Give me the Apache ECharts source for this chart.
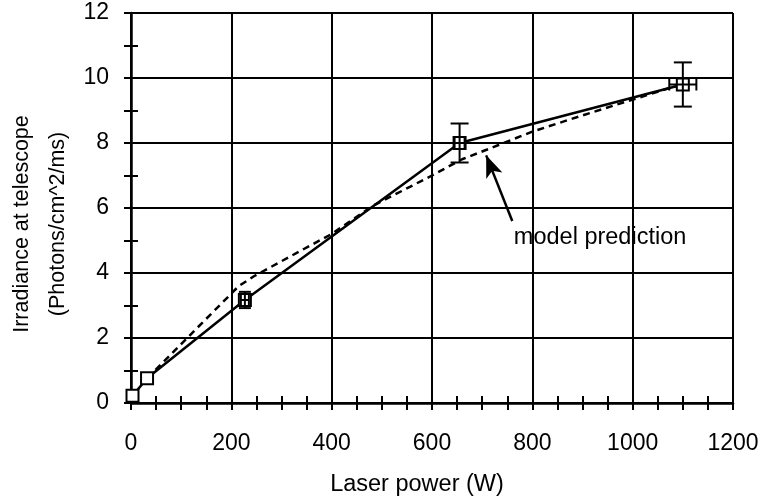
<!DOCTYPE html>
<html lang="en">
<head>
    <meta charset="UTF-8">
    <script src="https://cdn.jsdelivr.net/npm/echarts@6/dist/echarts.min.js"></script>
    <style>
        html, body { margin: 0; padding: 0; background: #fff; }
        #chart { width: 759px; height: 499px; }
    </style>
</head>
<body>
<div id="chart"></div>
<script type="text/javascript">
    // measured points: laser power (W), irradiance, error bars
    const powerW = [3, 32, 227, 655, 1100];
    const irradiance = [0.22, 0.76, 3.17, 8.0, 9.8];
    const irrErr = [0, 0, 0.25, 0.6, 0.68];
    const powerErr = [0, 0, 8, 10, 27];

    // model prediction curve (dashed)
    const modelPower = [32, 215, 245, 340, 400, 480, 600, 660, 710, 800, 900, 1075, 1100];
    const modelIrr = [0.76, 3.6, 3.9, 4.7, 5.2, 6.05, 7.0, 7.5, 7.8, 8.35, 8.85, 9.7, 9.8];

    // annotation: arrow tail -> tip, label spot
    const arrowFrom = [760, 5.6];
    const arrowTo = [708, 7.62];
    const notePos = [935, 5.1];
    const noteText = 'model prediction';

    const font = 'Liberation Sans, Arial, Helvetica, sans-serif';
    const ink = '#000';

    let chart = echarts.init(document.getElementById('chart'));

    const measured = powerW.map(function (x, i) { return [x, irradiance[i]]; });
    const bars = powerW.map(function (x, i) { return [x, irradiance[i], irrErr[i], powerErr[i]]; });
    const model = modelPower.map(function (x, i) { return [x, modelIrr[i]]; });

    function errorBars(params, api) {
        const x = api.value(0), y = api.value(1), ey = api.value(2), ex = api.value(3);
        const cap = ey > 0.5 ? 9 : 6;
        const kids = [];
        const st = { stroke: ink, lineWidth: 2 };
        if (ey > 0) {
            const top = api.coord([x, y + ey]);
            const bot = api.coord([x, y - ey]);
            kids.push({ type: 'line', shape: { x1: top[0], y1: top[1], x2: bot[0], y2: bot[1] }, style: st });
            kids.push({ type: 'line', shape: { x1: top[0] - cap, y1: top[1], x2: top[0] + cap, y2: top[1] }, style: st });
            kids.push({ type: 'line', shape: { x1: bot[0] - cap, y1: bot[1], x2: bot[0] + cap, y2: bot[1] }, style: st });
        }
        if (ex > 0) {
            const l = api.coord([x - ex, y]);
            const r = api.coord([x + ex, y]);
            const c = 6;
            kids.push({ type: 'line', shape: { x1: l[0], y1: l[1], x2: r[0], y2: r[1] }, style: st });
            kids.push({ type: 'line', shape: { x1: l[0], y1: l[1] - c, x2: l[0], y2: l[1] + c }, style: st });
            kids.push({ type: 'line', shape: { x1: r[0], y1: r[1] - c, x2: r[0], y2: r[1] + c }, style: st });
        }
        return { type: 'group', children: kids };
    }

    const labelStyle = { color: ink, fontFamily: font, fontSize: 23 };

    let option = {
        animation: false,
        backgroundColor: '#fff',
        grid: { left: 131, right: 26, top: 13, bottom: 96, outerBoundsMode: 'none', containLabel: false },
        xAxis: [
            {
                type: 'value', position: 'bottom', min: 0, max: 1200, interval: 200,
                name: 'Laser power (W)', nameLocation: 'middle', nameGap: 70, nameMoveOverlap: false,
                nameTextStyle: { color: ink, fontFamily: font, fontSize: 23.5, padding: [0, 30, 0, 0] },
                axisLine: { show: true, onZero: false, lineStyle: { color: ink, width: 2.5 } },
                axisTick: { show: true, length: 7, lineStyle: { color: ink, width: 2 } },
                minorTick: { show: true, splitNumber: 4, length: 7, lineStyle: { color: ink, width: 2 } },
                axisLabel: Object.assign({ margin: 29, formatter: function (v) { return String(v); } }, labelStyle),
                splitLine: { show: true, lineStyle: { color: ink, width: 2 } }
            },
            {
                type: 'value', position: 'bottom', min: 0, max: 1200, interval: 200,
                axisLine: { show: false, onZero: false },
                axisTick: { show: false, inside: true },
                minorTick: { show: true, splitNumber: 4, length: 7, lineStyle: { color: ink, width: 2 } },
                axisLabel: { show: false },
                splitLine: { show: false }
            }
        ],
        yAxis: [
            {
                type: 'value', position: 'left', min: 0, max: 12, interval: 2,
                name: 'Irradiance at telescope\n(Photons/cm^2/ms)', nameLocation: 'middle', nameGap: 55,
                nameRotate: 90, nameMoveOverlap: false,
                nameTextStyle: { color: ink, fontFamily: font, fontSize: 21.5, lineHeight: 36, padding: [0, 32, 0, 0] },
                axisLine: { show: true, onZero: false, lineStyle: { color: ink, width: 2.5 } },
                axisTick: { show: true, length: 7, lineStyle: { color: ink, width: 2 } },
                minorTick: { show: true, splitNumber: 2, length: 7, lineStyle: { color: ink, width: 2 } },
                axisLabel: Object.assign({ margin: 22 }, labelStyle),
                splitLine: { show: true, lineStyle: { color: ink, width: 2 } }
            },
            {
                type: 'value', position: 'left', min: 0, max: 12, interval: 2,
                axisLine: { show: false, onZero: false },
                axisTick: { show: false, inside: true },
                minorTick: { show: true, splitNumber: 2, length: 7, lineStyle: { color: ink, width: 2 } },
                axisLabel: { show: false },
                splitLine: { show: false }
            }
        ],
        series: [
            {
                name: 'model', type: 'line', data: model, symbol: 'none',
                lineStyle: { color: ink, width: 2.5, type: [7, 5] },
                z: 3,
                markLine: {
                    silent: true, symbol: ['none', 'arrow'], symbolSize: [13, 22],
                    lineStyle: { color: ink, width: 2.5, type: 'solid' },
                    label: { show: false },
                    data: [[{ coord: arrowFrom }, { coord: arrowTo }]]
                },
                markPoint: {
                    silent: true, symbol: 'circle', symbolSize: 0,
                    label: { show: true, position: 'inside', formatter: noteText, color: ink, fontFamily: font, fontSize: 23.5 },
                    data: [{ coord: notePos }]
                }
            },
            {
                name: 'measured', type: 'line', data: measured,
                symbol: 'rect', symbolSize: 12,
                itemStyle: { color: '#fff', borderColor: ink, borderWidth: 2 },
                lineStyle: { color: ink, width: 2.5 },
                z: 4
            },
            {
                name: 'errors', type: 'custom', data: bars, renderItem: errorBars, z: 5
            }
        ]
    };

    chart.setOption(option);
</script>
</body>
</html>
